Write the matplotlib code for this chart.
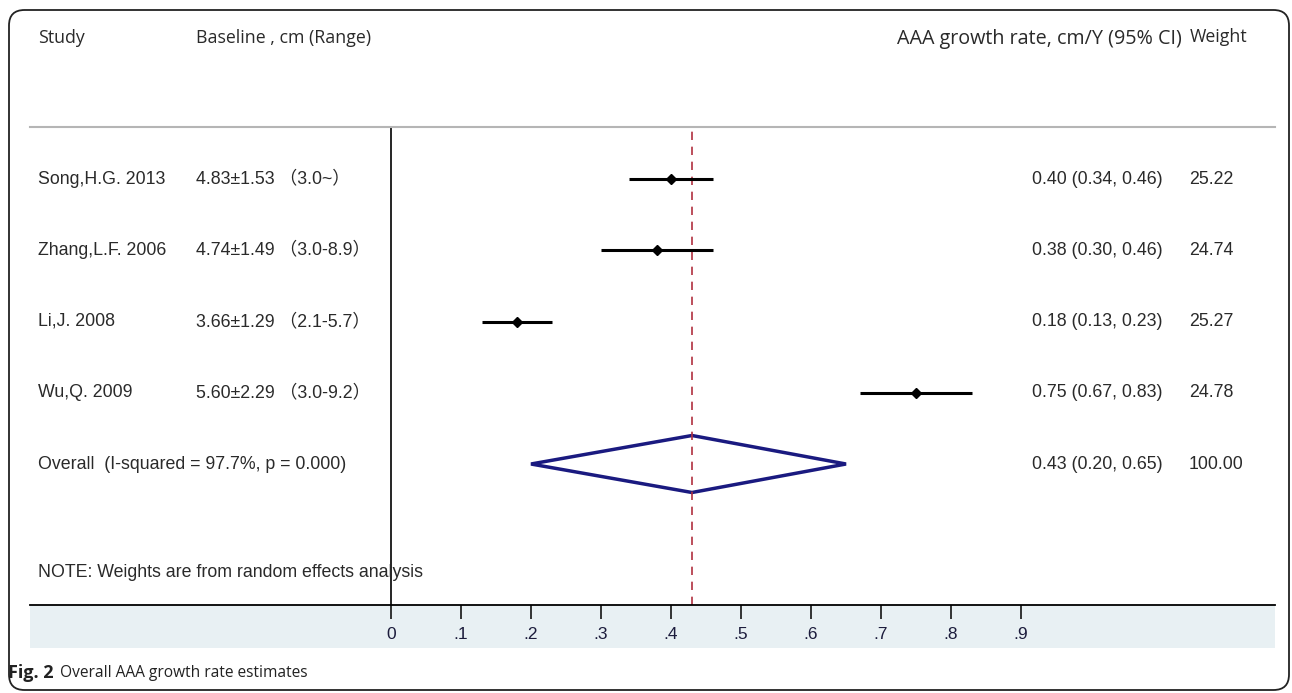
import numpy as np
import matplotlib
matplotlib.use("Agg")
import matplotlib.pyplot as plt
from matplotlib.patches import FancyBboxPatch, Rectangle, Polygon

plt.rcParams['font.family'] = ['Liberation Sans', 'Noto Sans CJK SC', 'DejaVu Sans']

studies = ['Song,H.G. 2013', 'Zhang,L.F. 2006', 'Li,J. 2008', 'Wu,Q. 2009']
baseline = ['4.83±1.53 （3.0~）', '4.74±1.49 （3.0-8.9）',
            '3.66±1.29 （2.1-5.7）', '5.60±2.29 （3.0-9.2）']
est = [0.40, 0.38, 0.18, 0.75]
lo = [0.34, 0.30, 0.13, 0.67]
hi = [0.46, 0.46, 0.23, 0.83]
weights = ['25.22', '24.74', '25.27', '24.78']
overall_est, overall_lo, overall_hi = 0.43, 0.20, 0.65
overall_label = 'Overall  (I-squared = 97.7%, p = 0.000)'
overall_weight = '100.00'
ticks = [0, .1, .2, .3, .4, .5, .6, .7, .8, .9]
tick_labels = ['0', '.1', '.2', '.3', '.4', '.5', '.6', '.7', '.8', '.9']

W, H = 1292, 693
fig = plt.figure(figsize=(W / 100, H / 100), dpi=100)

def fx(px):
    return px / W

def fy(py):
    return 1 - py / H

# outer rounded frame
frame = FancyBboxPatch((fx(9), fy(690)), fx(1280), (680) / H,
                       boxstyle="round,pad=0,rounding_size=0.012",
                       transform=fig.transFigure, fill=False,
                       edgecolor='#222222', linewidth=1.3, mutation_aspect=W / H)
fig.patches.append(frame)

# shaded band under axis
band = Rectangle((fx(30), fy(648)), fx(1245), 43 / H,
                 transform=fig.transFigure, facecolor='#e8f0f3',
                 edgecolor='none', zorder=-5)
fig.patches.append(band)

ax = fig.add_axes([fx(30), fy(605), fx(1245), (605 - 127) / H])
ax.set_zorder(2)
ax.patch.set_alpha(0)
x0 = 391
scale = 700.0
ax.set_xlim((30 - x0) / scale, (1275 - x0) / scale)
step = 71.25
ax.set_ylim((605 - 179) / step, (127 - 179) / step)

for s in ['left', 'right']:
    ax.spines[s].set_visible(False)
ax.spines['top'].set_color('#b5b5b5')
ax.spines['top'].set_linewidth(1.5)
ax.spines['bottom'].set_linewidth(1.3)
ax.set_yticks([])
ax.set_xticks(ticks)
ax.set_xticklabels(tick_labels, fontsize=12.5, color='#1c1c3c')
ax.tick_params(axis='x', direction='out', length=10, width=1.1, pad=6)

ax.axvline(0, color='black', linewidth=1.2)
ax.axvline(overall_est, color='#b03040', linewidth=1.2, linestyle=(0, (5, 4)))

rows = np.arange(len(studies))
ax.hlines(rows, lo, hi, color='black', linewidth=2.2)
ax.plot(est, rows, 'D', color='black', markersize=5.5)

yo = len(studies)
diamond = Polygon([[overall_lo, yo], [overall_est, yo - 0.4],
                   [overall_hi, yo], [overall_est, yo + 0.4]],
                  closed=True, fill=False, edgecolor='#1a1a80', linewidth=2.5)
ax.add_patch(diamond)

txt = dict(fontsize=12.8, color='#2a2a2a', va='center')
tr = ax.get_yaxis_transform()

def ax_x(px):
    return (px - 30) / 1245.0

for i in rows:
    ax.text(ax_x(38), i, studies[i], transform=tr, **txt)
    ax.text(ax_x(196), i, baseline[i], transform=tr, **txt)
    ax.text(ax_x(1032), i, f'{est[i]:.2f} ({lo[i]:.2f}, {hi[i]:.2f})', transform=tr, **txt)
    ax.text(ax_x(1189), i, weights[i], transform=tr, **txt)

ax.text(ax_x(38), yo, overall_label, transform=tr, **txt)
ax.text(ax_x(1032), yo, f'{overall_est:.2f} ({overall_lo:.2f}, {overall_hi:.2f})', transform=tr, **txt)
ax.text(ax_x(1189), yo, overall_weight, transform=tr, **txt)
ax.text(ax_x(38), (572 - 179) / step, 'NOTE: Weights are from random effects analysis',
        transform=tr, **txt)

# header
hdr = dict(color='#2a2a2a', va='center', family=['Open Sans', 'DejaVu Sans'])
fig.text(fx(38), fy(38), 'Study', fontsize=12.8, **hdr)
fig.text(fx(196), fy(38), 'Baseline , cm (Range)', fontsize=12.8, **hdr)
fig.text(fx(1182), fy(39), 'AAA growth rate, cm/Y (95% CI)', fontsize=14.2, ha='right', **hdr)
fig.text(fx(1190), fy(37), 'Weight', fontsize=12.8, **hdr)

# caption
cap = dict(color='#222222', va='center', family=['Open Sans', 'DejaVu Sans'])
fig.text(fx(8), fy(673), 'Fig. 2', fontsize=13, fontweight='bold', **cap)
fig.text(fx(60), fy(673), 'Overall AAA growth rate estimates', fontsize=11.2, **cap)

fig.savefig('out.png', dpi=100)
